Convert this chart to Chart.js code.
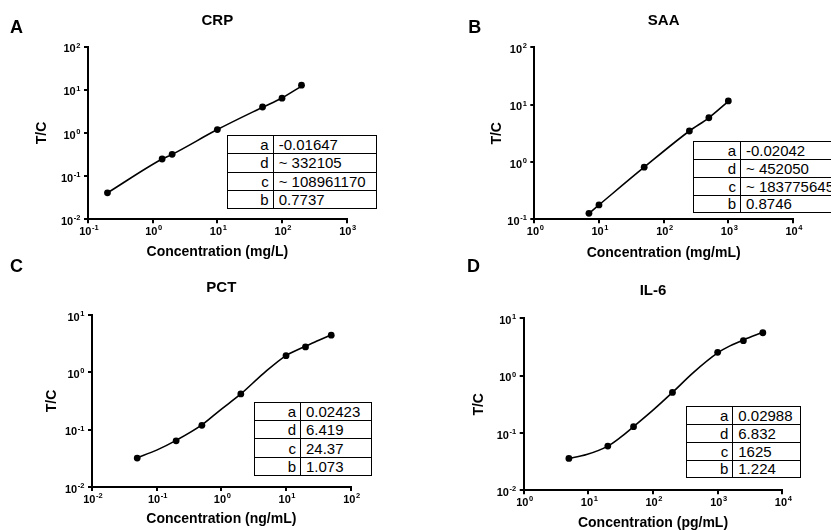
<!DOCTYPE html>
<html><head><meta charset="utf-8">
<script src="https://cdn.jsdelivr.net/npm/chart.js@4.4.0/dist/chart.umd.min.js"></script>
<style>
html,body{margin:0;padding:0;background:#fff;}
body{width:831px;height:530px;overflow:hidden;position:relative;font-family:'Liberation Sans',Arial,sans-serif;color:#000;}
.panel{position:absolute;}
.panel canvas{display:block;}
.letter{position:absolute;font-weight:bold;font-size:18px;line-height:18px;}
.ptab{position:absolute;box-sizing:border-box;border:1.5px solid #000;background:#fff;font-size:15px;display:flex;flex-direction:column;}
.ptab .row{display:flex;flex:1 1 0;min-height:0;}
.ptab .row + .row{border-top:1.5px solid #000;}
.ptab .k{box-sizing:border-box;border-right:1.5px solid #000;text-align:right;padding-right:4px;display:flex;align-items:center;justify-content:flex-end;}
.ptab .v{flex:1;padding-left:5px;display:flex;align-items:center;white-space:nowrap;overflow:visible;}
</style>
</head><body>
<script>
// ---------------- DATA ----------------
// measured points
const crpConc = [0.2, 1.4, 2, 10, 50, 100, 200];
const crpTC   = [0.041, 0.25, 0.32, 1.2, 4.0, 6.4, 12.8];
const saaConc = [7, 10, 50, 250, 500, 1000];
const saaTC   = [0.127, 0.178, 0.81, 3.47, 5.9, 11.6];
const pctConc = [0.05, 0.2, 0.5, 2, 10, 20, 50];
const pctTC   = [0.032, 0.064, 0.119, 0.42, 1.95, 2.77, 4.44];
const il6Conc = [5, 20, 50, 200, 1000, 2500, 5000];
const il6TC   = [0.036, 0.059, 0.129, 0.51, 2.55, 4.07, 5.6];

// fitted curves
const crpFitConc = [0.2, 1.4, 2, 10, 50, 100, 200];
const crpFitTC   = [0.041, 0.25, 0.32, 1.2, 3.95, 6.5, 12.2];
const saaFitConc = [7, 10, 50, 250, 500, 1000];
const saaFitTC   = [0.127, 0.178, 0.81, 3.47, 5.9, 11.4];
const pctFitConc = [0.05, 0.1, 0.2, 0.5, 0.95, 2, 4.5, 10, 20, 31.5, 50];
const pctFitTC   = [0.0325, 0.044, 0.065, 0.121, 0.218, 0.42, 0.96, 1.96, 2.85, 3.58, 4.5];
const il6FitConc = [5, 9.4, 20, 31, 50, 100, 200, 420, 1000, 1550, 2500, 5000];
const il6FitTC   = [0.036, 0.042, 0.059, 0.083, 0.129, 0.25, 0.51, 1.13, 2.49, 3.3, 4.2, 5.7];

const paramNames = ['a', 'd', 'c', 'b'];
const crpParams = ['-0.01647', '~ 332105', '~ 108961170', '0.7737'];
const saaParams = ['-0.02042', '~ 452050', '~ 183775645', '0.8746'];
const pctParams = ['0.02423', '6.419', '24.37', '1.073'];
const il6Params = ['0.02988', '6.832', '1625', '1.224'];

// tick values and labels (label = base + superscript exponent)
const tickBase = '10';
const crpXTicks = [0.1, 1, 10, 100, 1000];
const crpXExp   = ['-1', '0', '1', '2', '3'];
const crpYTicks = [0.01, 0.1, 1, 10, 100];
const crpYExp   = ['-2', '-1', '0', '1', '2'];
const saaXTicks = [1, 10, 100, 1000, 10000];
const saaXExp   = ['0', '1', '2', '3', '4'];
const saaYTicks = [0.1, 1, 10, 100];
const saaYExp   = ['-1', '0', '1', '2'];
const pctXTicks = [0.01, 0.1, 1, 10, 100];
const pctXExp   = ['-2', '-1', '0', '1', '2'];
const pctYTicks = [0.01, 0.1, 1, 10];
const pctYExp   = ['-2', '-1', '0', '1'];
const il6XTicks = [1, 10, 100, 1000, 10000];
const il6XExp   = ['0', '1', '2', '3', '4'];
const il6YTicks = [0.01, 0.1, 1, 10];
const il6YExp   = ['-2', '-1', '0', '1'];

const titles = ['CRP', 'SAA', 'PCT', 'IL-6'];
const letters = ['A', 'B', 'C', 'D'];
const xTitles = ['Concentration (mg/L)', 'Concentration (mg/mL)', 'Concentration (ng/mL)', 'Concentration (pg/mL)'];
const yTitle = 'T/C';

// ---------------- LAYOUT ----------------
const FONT = "'Liberation Sans', Arial, sans-serif";
const panels = [
  {conc: crpConc, tc: crpTC, fx: crpFitConc, fy: crpFitTC, xt: crpXTicks, xe: crpXExp, yt: crpYTicks, ye: crpYExp, params: crpParams,
   box: {x: 0, y: 0, w: 415, h: 262}, plot: {l: 88, t: 46.7, r: 346.7, b: 219.3}, titleY: 20.5, xTitleY: 252.5, yTitleX: 42,
   letter: {x: 10, y: 18.3}, tab: {x: 226.7, y: 134.7, w: 150.7, h: 74.7, k: 46}},
  {conc: saaConc, tc: saaTC, fx: saaFitConc, fy: saaFitTC, xt: saaXTicks, xe: saaXExp, yt: saaYTicks, ye: saaYExp, params: saaParams,
   box: {x: 415, y: 0, w: 416, h: 262}, plot: {l: 534.3, t: 47.3, r: 793, b: 219.3}, titleY: 20.5, xTitleY: 253, yTitleX: 497,
   letter: {x: 468.3, y: 18.3}, tab: {x: 693.3, y: 141.3, w: 152, h: 72, k: 46.7}},
  {conc: pctConc, tc: pctTC, fx: pctFitConc, fy: pctFitTC, xt: pctXTicks, xe: pctXExp, yt: pctYTicks, ye: pctYExp, params: pctParams,
   box: {x: 0, y: 262, w: 415, h: 268}, plot: {l: 92, t: 315, r: 350.7, b: 487}, titleY: 287.7, xTitleY: 519.5, yTitleX: 52.5,
   letter: {x: 10, y: 257}, tab: {x: 254, y: 401.7, w: 117.7, h: 74.3, k: 46}},
  {conc: il6Conc, tc: il6TC, fx: il6FitConc, fy: il6FitTC, xt: il6XTicks, xe: il6XExp, yt: il6YTicks, ye: il6YExp, params: il6Params,
   box: {x: 415, y: 262, w: 416, h: 268}, plot: {l: 523.7, t: 318.3, r: 782.3, b: 490.3}, titleY: 291.3, xTitleY: 523, yTitleX: 478.7,
   letter: {x: 467, y: 257}, tab: {x: 685.7, y: 406.3, w: 115, h: 72, k: 46.6}}
];

// draws "10" with a raised, smaller exponent at each tick the scale built
const expTickPlugin = {
  id: 'expTicks',
  afterDraw(chart) {
    const cfg = chart.options.plugins.expTicks;
    if (!cfg) return;
    const ctx = chart.ctx;
    const area = chart.chartArea;
    const baseFont = 'bold 11px ' + FONT, expFont = 'bold 7.5px ' + FONT;
    ctx.save();
    ctx.fillStyle = '#000';
    ctx.textBaseline = 'middle';
    ctx.textAlign = 'left';
    const measure = (exp) => {
      ctx.font = baseFont; const bw = ctx.measureText(cfg.base).width;
      ctx.font = expFont; return {bw, w: bw + 0.6 + ctx.measureText(exp).width};
    };
    const draw = (x, y, exp, bw) => {
      ctx.font = baseFont; ctx.fillText(cfg.base, x, y);
      ctx.font = expFont; ctx.fillText(exp, x + bw + 0.6, y - 3.6);
    };
    const xs = chart.scales.x;
    xs.ticks.forEach((t, i) => {
      const px = xs.getPixelForValue(t.value);
      const m = measure(cfg.xExp[i]);
      draw(px - m.w / 2 + 1, area.bottom + 12.6, cfg.xExp[i], m.bw);
    });
    const ys = chart.scales.y;
    ys.ticks.forEach((t, i) => {
      const py = ys.getPixelForValue(t.value);
      const m = measure(cfg.yExp[i]);
      draw(area.left - 7.5 - m.w, py + 2.6, cfg.yExp[i], m.bw);
    });
    ctx.restore();
  }
};

function axisCommon(ticksArr) {
  return {
    type: 'logarithmic',
    min: ticksArr[0],
    max: ticksArr[ticksArr.length - 1],
    afterBuildTicks: (scale) => { scale.ticks = ticksArr.map(v => ({value: v})); },
    ticks: {display: false, autoSkip: false, maxRotation: 0, minRotation: 0},
    grid: {display: true, drawOnChartArea: false, drawTicks: true, tickLength: 4, color: '#000', lineWidth: 2},
    border: {display: true, color: '#000', width: 2}
  };
}

panels.forEach((p, idx) => {
  const div = document.createElement('div');
  div.className = 'panel';
  div.style.left = p.box.x + 'px'; div.style.top = p.box.y + 'px';
  div.style.width = p.box.w + 'px'; div.style.height = p.box.h + 'px';
  const cv = document.createElement('canvas');
  cv.width = p.box.w; cv.height = p.box.h;
  cv.style.width = p.box.w + 'px'; cv.style.height = p.box.h + 'px';
  div.appendChild(cv);
  document.body.appendChild(div);

  const W = p.box.w, H = p.box.h;
  const L = p.plot.l - p.box.x, T = p.plot.t - p.box.y, R = p.plot.r - p.box.x, B = p.plot.b - p.box.y;
  const tLH = 15 * 1.2;
  const tPadTop = (p.titleY - p.box.y) - tLH / 2;
  const tPadBot = T - tPadTop - tLH;
  const aLH = 14 * 1.2;
  const xPadBot = H - (p.xTitleY - p.box.y) - aLH / 2;
  const yPadTop = (p.yTitleX - p.box.x) - aLH / 2;

  const xs = axisCommon(p.xt);
  xs.position = 'bottom';
  xs.afterFit = (s) => { s.height = H - B; };
  xs.title = {display: true, text: xTitles[idx], color: '#000', font: {family: FONT, size: 14, weight: 'bold'},
              padding: {top: 0, bottom: xPadBot}};
  const ys = axisCommon(p.yt);
  ys.position = 'left';
  ys.afterFit = (s) => { s.width = L; };
  ys.title = {display: true, text: yTitle, color: '#000', font: {family: FONT, size: 14, weight: 'bold'},
              padding: {top: yPadTop, bottom: 0}};

  new Chart(cv, {
    type: 'line',
    data: {datasets: [
      {
        label: 'fit',
        data: p.fx.map((c, i) => ({x: c, y: p.fy[i]})),
        borderColor: '#000', borderWidth: 1.6, pointRadius: 0, pointHoverRadius: 0,
        cubicInterpolationMode: 'monotone', fill: false
      },
      {
        label: 'measured',
        data: p.conc.map((c, i) => ({x: c, y: p.tc[i]})),
        showLine: false, borderColor: '#000', backgroundColor: '#000',
        pointRadius: 3.4, pointBorderWidth: 0, pointBackgroundColor: '#000', pointHoverRadius: 3.4
      }
    ]},
    options: {
      responsive: false, animation: false, devicePixelRatio: 1,
      layout: {padding: {left: 0, top: 0, bottom: 0, right: W - R}},
      plugins: {
        legend: {display: false}, tooltip: {enabled: false},
        title: {display: true, text: titles[idx], fullSize: false, color: '#000',
                font: {family: FONT, size: 15, weight: 'bold'}, padding: {top: tPadTop, bottom: tPadBot}},
        expTicks: {base: tickBase, xExp: p.xe, yExp: p.ye}
      },
      scales: {x: xs, y: ys}
    },
    plugins: [expTickPlugin]
  });

  const lt = document.createElement('div');
  lt.className = 'letter';
  lt.style.left = p.letter.x + 'px'; lt.style.top = p.letter.y + 'px';
  lt.textContent = letters[idx];
  document.body.appendChild(lt);

  const tb = document.createElement('div');
  tb.className = 'ptab';
  tb.style.left = p.tab.x + 'px'; tb.style.top = p.tab.y + 'px';
  tb.style.width = p.tab.w + 'px'; tb.style.height = p.tab.h + 'px';
  paramNames.forEach((n, i) => {
    const row = document.createElement('div'); row.className = 'row';
    const k = document.createElement('div'); k.className = 'k'; k.style.width = p.tab.k + 'px'; k.textContent = n;
    const v = document.createElement('div'); v.className = 'v'; v.textContent = p.params[i];
    row.appendChild(k); row.appendChild(v); tb.appendChild(row);
  });
  document.body.appendChild(tb);
});
</script>
</body></html>
